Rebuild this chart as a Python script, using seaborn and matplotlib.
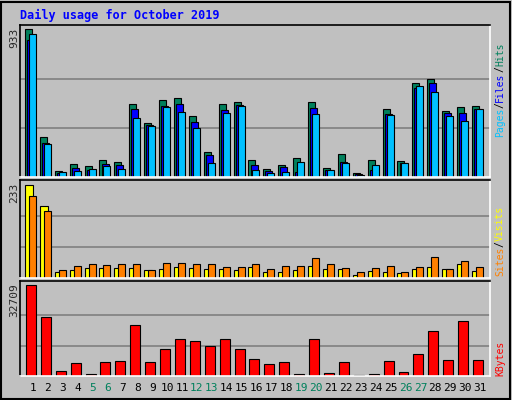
import matplotlib
matplotlib.use("Agg")
import matplotlib.pyplot as plt
import seaborn as sns
import numpy as np

days = list(range(1, 32))
weekend = [5, 6, 12, 13, 19, 20, 26, 27]
hits = [933,252,36,81,68,106,93,462,341,488,500,386,157,462,475,106,49,74,119,475,55,144,23,106,430,100,596,621,418,443,449]
files = [865,214,28,55,45,81,74,430,329,449,462,348,138,424,456,74,36,61,30,437,42,93,17,42,399,87,564,596,405,405,430]
pages = [901,208,30,36,49,68,49,373,324,443,411,310,87,405,449,42,23,30,93,399,42,87,11,74,392,87,577,538,386,354,430]
visits = [233,180,15,20,25,25,25,25,20,23,28,25,23,23,20,28,15,15,20,30,23,23,8,18,15,13,23,28,23,35,18]
sites = [205,167,20,30,35,33,35,35,20,38,38,35,35,28,28,35,23,30,30,51,35,25,15,25,30,15,28,53,23,43,28]
kbytes = [32709,21250,1910,4776,836,5134,5492,18390,5134,9790,13373,12657,10865,13373,9790,6209,4418,5134,836,13373,1194,5134,358,836,5492,1552,8000,16238,5850,19820,5850]

sns.set_style("white")
plt.rcParams['font.family'] = ['DejaVu Sans Mono', 'DejaVu Sans']
BG = "#C0C0C0"
fig = plt.figure(figsize=(5.12, 4.0), dpi=100, facecolor=BG)
W, H = 512, 400

def mkax(x0, y0, x1, y1):
    ax = fig.add_axes([x0/W, 1-y1/H, (x1-x0)/W, (y1-y0)/H])
    ax.set_facecolor(BG)
    ax.set_xlim(0.13, 31.67)
    ax.set_xticks([]); ax.set_yticks([])
    for s in ax.spines.values():
        s.set_visible(True); s.set_linewidth(1.2)
    ax.spines['left'].set_color('black'); ax.spines['top'].set_color('black')
    ax.spines['right'].set_color('white'); ax.spines['bottom'].set_color('white')
    return ax

x = np.array(days, dtype=float)
ec = dict(edgecolor='black', linewidth=0.8, align='edge')

ax1 = mkax(20, 25, 490, 177)
m1 = max(hits)
for f in (1/3, 2/3):
    ax1.axhline(m1*f, color='#808080', lw=1.2, zorder=0)
ax1.bar(x-0.54, hits, 0.47, color='#00805C', **ec)
ax1.bar(x-0.40, files, 0.47, color='#0000FF', **ec)
ax1.bar(x-0.27, pages, 0.47, color='#00C0FF', **ec)
ax1.set_ylim(0, m1*1.03)

ax2 = mkax(20, 180, 490, 278)
m2 = max(visits)
for f in (1/3, 2/3):
    ax2.axhline(m2*f, color='#808080', lw=1.2, zorder=0)
ax2.bar(x-0.54, visits, 0.53, color='#FFFF00', **ec)
ax2.bar(x-0.27, sites, 0.47, color='#FF8000', **ec)
ax2.set_ylim(0, m2*1.05)

ax3 = mkax(20, 281, 490, 376)
m3 = max(kbytes)
for f in (1/3, 2/3):
    ax3.axhline(m3*f, color='#808080', lw=1.2, zorder=0)
ax3.bar(x-0.47, kbytes, 0.67, color='#FF0000', **ec)
ax3.set_ylim(0, m3*1.04)

fig.add_artist(plt.Rectangle((1/W, 1/H), 1-3/W, 1-3/H, fill=False, ec='black', lw=1.5, transform=fig.transFigure))
fig.text(20/W, 1-15/H, "Daily usage for October 2019", color='#0000FF', fontsize=8.5,
         fontweight='bold', va='center', ha='left')
fig.text(14/W, 1-28/H, str(m1), rotation=90, fontsize=8, va='top', ha='center')
fig.text(14/W, 1-183/H, str(m2), rotation=90, fontsize=8, va='top', ha='center')
fig.text(14/W, 1-283/H, str(m3), rotation=90, fontsize=8, va='top', ha='center')

def rlabel(y_bottom, parts):
    y = 1 - y_bottom/H
    fig.canvas.draw()
    for txt, col in parts:
        t = fig.text(500/W, y, txt, rotation=90, color=col, fontsize=7, va='bottom', ha='center')
        bb = t.get_window_extent(renderer=fig.canvas.get_renderer())
        y += bb.height/H
rlabel(137, [("Pages", '#00C0FF'), ("/", 'black'), ("Files", '#0000FF'), ("/", 'black'), ("Hits", '#00805C')])
rlabel(276, [("Sites", '#FF8000'), ("/", 'black'), ("Visits", '#FFFF00')])
rlabel(376, [("KBytes", '#FF0000')])

for d in days:
    xp = 33 + (d-1)*14.9
    fig.text(xp/W, 1-388/H, str(d), color='#00805C' if d in weekend else 'black',
             fontsize=8, ha='center', va='center')

fig.savefig("out.png", dpi=100, facecolor=BG)
